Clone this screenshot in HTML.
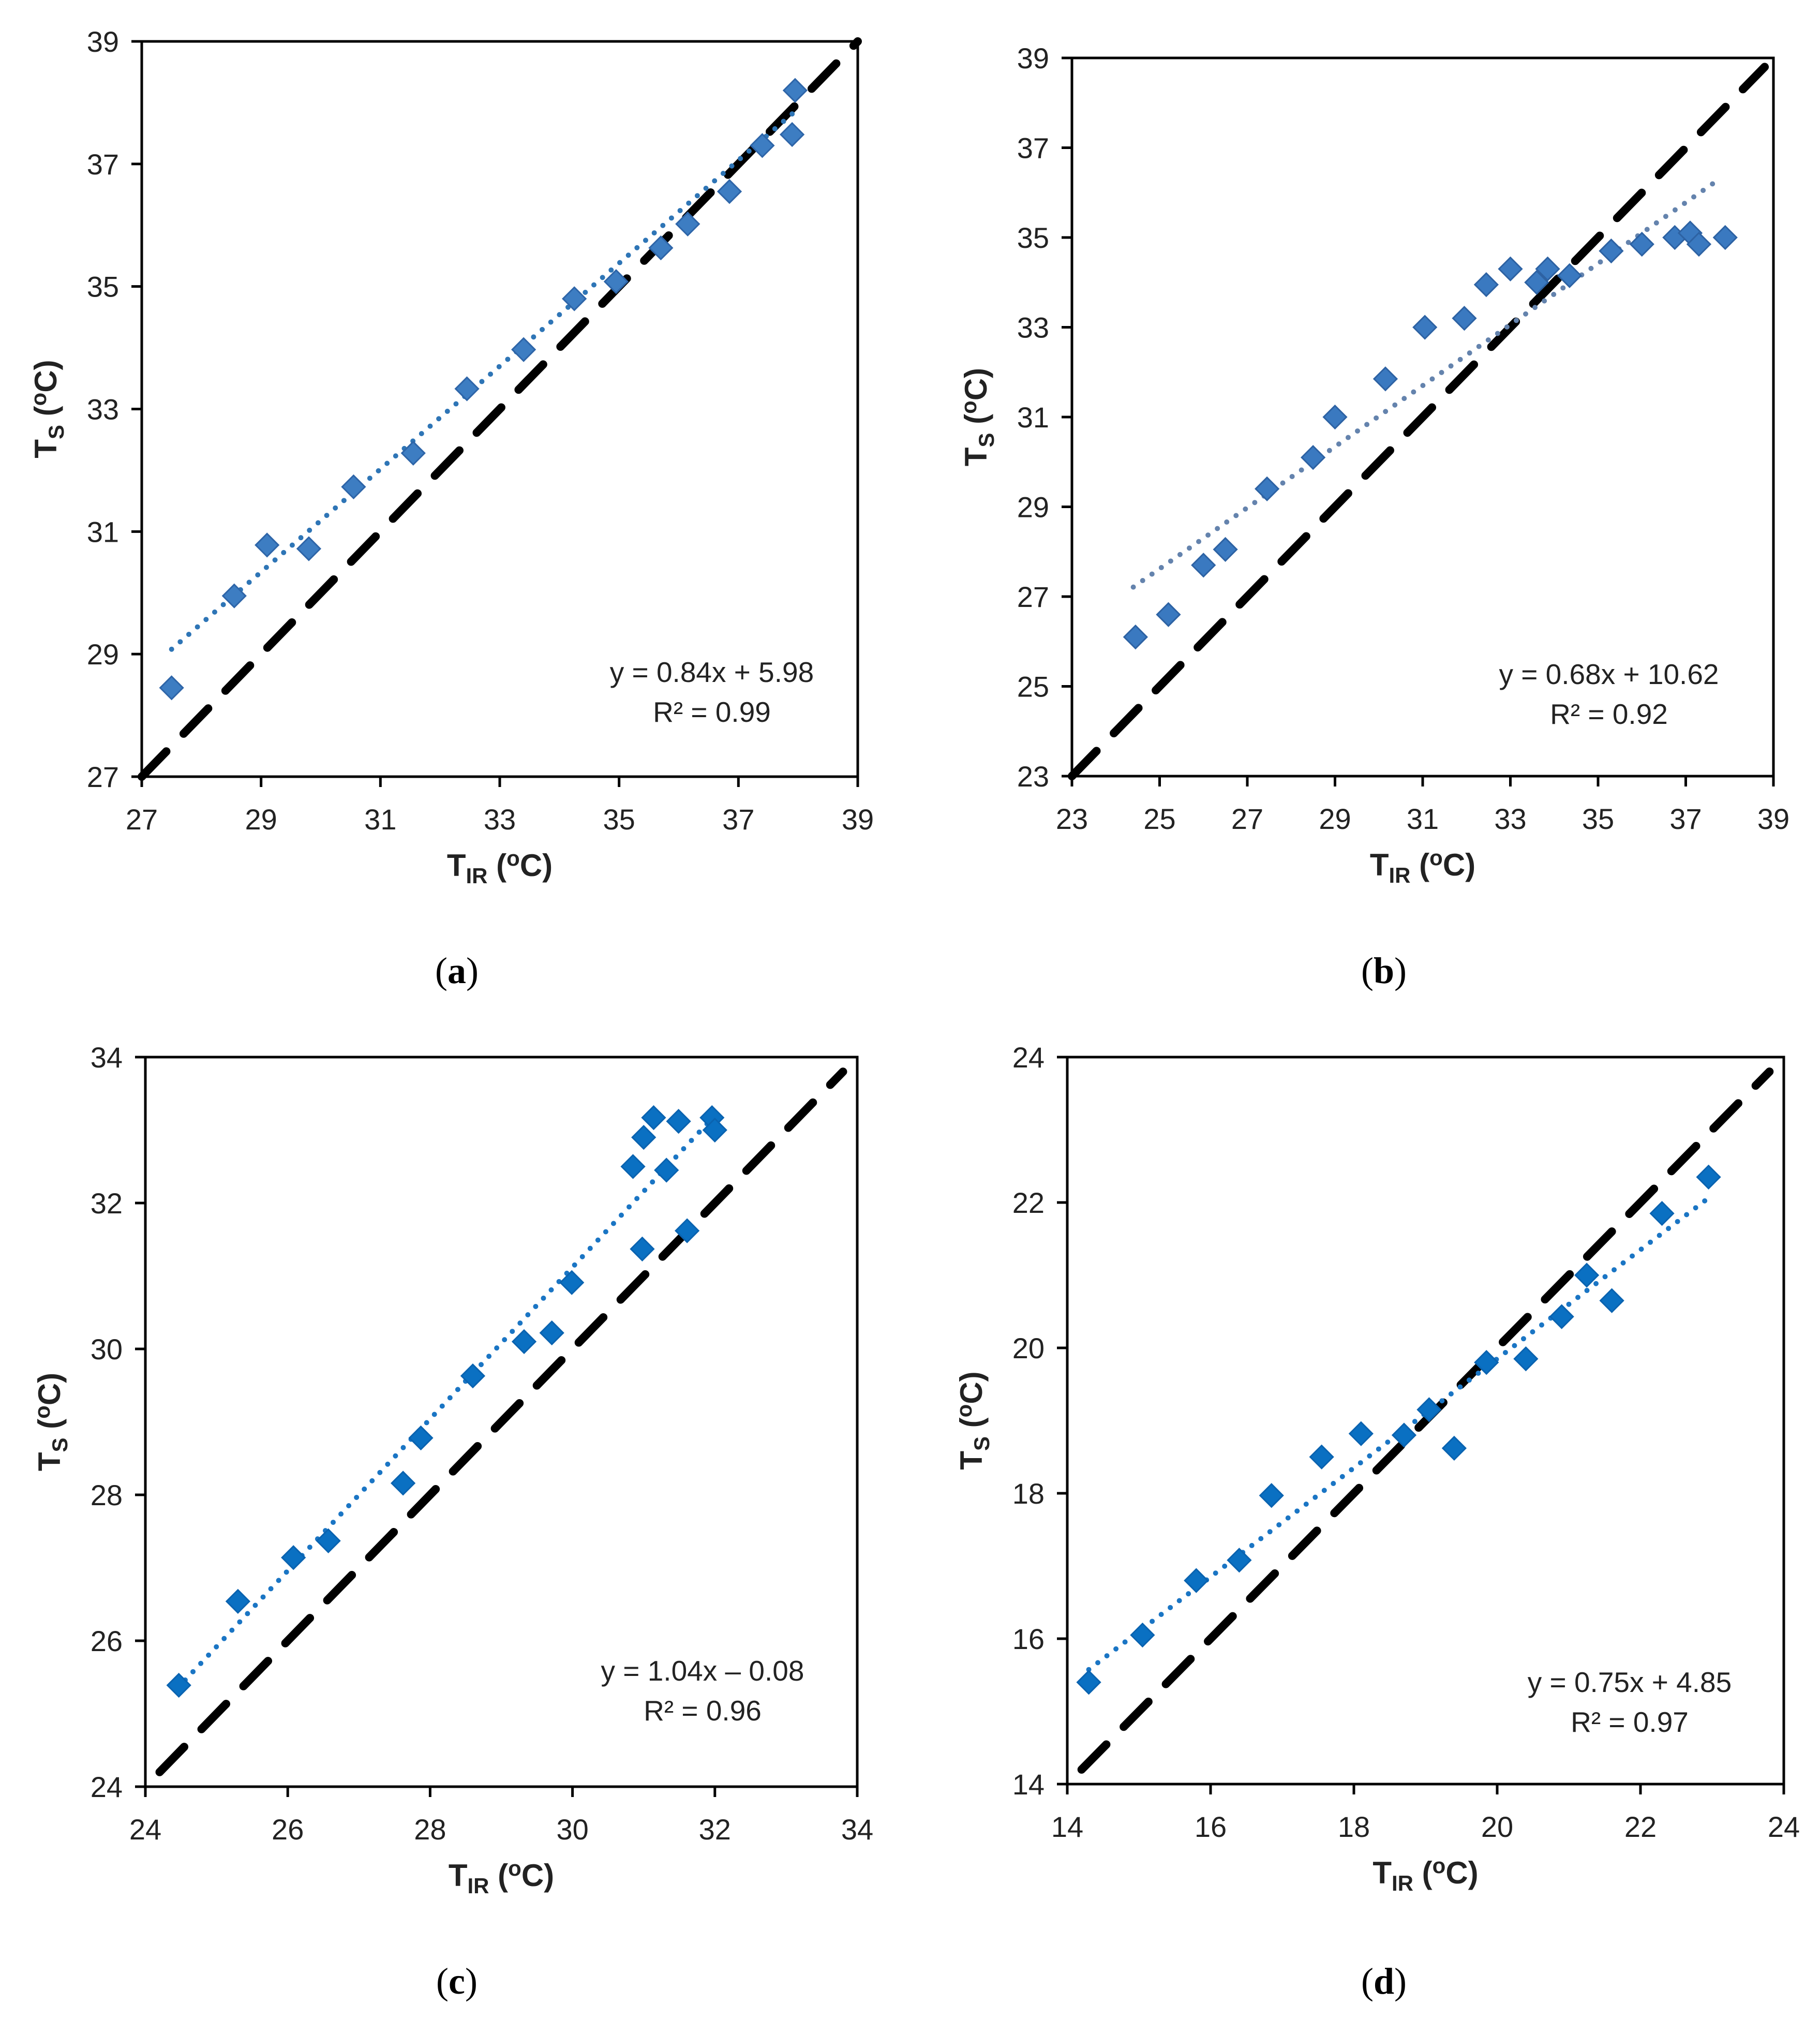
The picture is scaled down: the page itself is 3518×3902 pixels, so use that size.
<!DOCTYPE html>
<html><head><meta charset="utf-8"><style>
html,body{margin:0;padding:0;background:#fff;}
svg{display:block;font-family:"Liberation Sans",sans-serif;}
</style></head><body>
<svg id="fig" width="3518" height="3902" viewBox="0 0 3518 3902" xmlns="http://www.w3.org/2000/svg"></svg>
<script>
// Panel (a)
const aX = [27.5,28.55,29.1,29.8,30.55,31.55,32.45,33.4,34.25,34.95,35.7,36.15,36.85,37.4,37.9,37.95];
const aY = [28.45,29.95,30.78,30.72,31.73,32.28,33.33,33.97,34.8,35.08,35.63,36.02,36.55,37.3,37.48,38.2];
const aTicks = [27,29,31,33,35,37,39];
// Panel (b)
const bX = [24.45,25.2,26.0,26.5,27.45,28.5,29.0,30.15,31.05,31.95,32.45,33.0,33.6,33.85,34.35,35.3,36.0,36.75,37.1,37.3,37.9];
const bY = [26.1,26.6,27.7,28.05,29.4,30.1,31.0,31.85,33.0,33.2,33.95,34.3,34.0,34.3,34.15,34.7,34.85,35.0,35.1,34.85,35.0];
const bTicks = [23,25,27,29,31,33,35,37,39];
// Panel (c)
const cX = [24.47,25.3,26.08,26.57,27.62,27.87,28.6,29.32,29.71,29.99,30.98,30.85,31.0,31.14,31.32,31.49,31.61,31.96,32.0];
const cY = [25.39,26.54,27.14,27.37,28.16,28.78,29.63,30.1,30.22,30.91,31.37,32.5,32.9,33.17,32.45,33.12,31.62,33.17,33.0];
const cTicks = [24,26,28,30,32,34];
// Panel (d)
const dX = [14.3,15.05,15.8,16.4,16.85,17.55,18.1,18.7,19.05,19.4,19.85,20.4,20.9,21.25,21.6,22.3,22.95];
const dY = [15.4,16.05,16.8,17.08,17.97,18.5,18.82,18.8,19.15,18.62,19.8,19.85,20.43,21.0,20.65,21.85,22.35];
const dTicks = [14,16,18,20,22,24];
// Fits [slope, intercept]
const fitA = [0.84,5.98], fitB = [0.68,10.62], fitC = [1.04,-0.08], fitD = [0.75,4.85];

const NS = "http://www.w3.org/2000/svg";
const svg = document.getElementById('fig');
function mk(tag, attrs, parent){
  const e = document.createElementNS(NS, tag);
  for (const k in attrs) e.setAttribute(k, attrs[k]);
  (parent||svg).appendChild(e);
  return e;
}
const panels = [
  {id:'a', L:274, R:1658, T:80, B:1501, xs:aX, ys:aY, ticks:aTicks, fit:fitA, fx:[27.5,37.95], dx:[27,39], fill:'#3d7dc2', stroke:'#2e65a8', tcol:'#2e75b6', eq:['y = 0.84x + 5.98','R² = 0.99'], eqx:1376, eqy:1318, cap:'a', capx:883, capy:1900},
  {id:'b', L:2072, R:3428, T:112, B:1500, xs:bX, ys:bY, ticks:bTicks, fit:fitB, fx:[24.4,37.8], dx:[23,38.8], fill:'#3a79c0', stroke:'#2d62a3', tcol:'#6483ad', eq:['y = 0.68x + 10.62','R² = 0.92'], eqx:3110, eqy:1322, cap:'b', capx:2675, capy:1900},
  {id:'c', L:281, R:1657, T:2043, B:3453, xs:cX, ys:cY, ticks:cTicks, fit:fitC, fx:[24.45,32.0], dx:[24.2,33.8], fill:'#0a70c2', stroke:'#0a63b0', tcol:'#1a75c4', eq:['y = 1.04x – 0.08','R² = 0.96'], eqx:1358, eqy:3248, cap:'c', capx:883, capy:3853},
  {id:'d', L:2063, R:3448, T:2043, B:3448, xs:dX, ys:dY, ticks:dTicks, fit:fitD, fx:[14.3,22.95], dx:[14.2,23.8], fill:'#0a70c2', stroke:'#0a63b0', tcol:'#1a75c4', eq:['y = 0.75x + 4.85','R² = 0.97'], eqx:3150, eqy:3270, cap:'d', capx:2675, capy:3853}
];
panels.forEach(p=>{
  const t0 = p.ticks[0], t1 = p.ticks[p.ticks.length-1];
  const sx = v => p.L + (v - t0)/(t1 - t0)*(p.R - p.L);
  const sy = v => p.B - (v - t0)/(t1 - t0)*(p.B - p.T);
  const g = mk('g', {});
  
  
  const frame = mk('rect', {x:p.L, y:p.T, width:p.R-p.L, height:p.B-p.T, fill:'none', stroke:'#000', 'stroke-width':5}, g);
  
  
  p.ticks.forEach(t=>{
    const X = sx(t), Y = sy(t);
    const tx = mk('line', {x1:X, x2:X, y1:p.B, y2:p.B+20, stroke:'#000', 'stroke-width':5}, g);
    
    
    const ty = mk('line', {x1:p.L-20, x2:p.L, y1:Y, y2:Y, stroke:'#000', 'stroke-width':5}, g);
    
    
    const lx = mk('text', {x:X, y:p.B+102, 'text-anchor':'middle', 'font-size':56, fill:'#222'}, g);
    lx.textContent = t;
    
    
    const ly = mk('text', {x:p.L-44, y:Y+20, 'text-anchor':'end', 'font-size':56, fill:'#222'}, g);
    ly.textContent = t;
    
    
  });
  const dl = mk('line', {x1:sx(p.dx[0]), y1:sy(p.dx[0]), x2:sx(p.dx[1]), y2:sy(p.dx[1]), stroke:'#000', 'stroke-width':16, 'stroke-dasharray':'68 48', 'stroke-linecap':'round'}, g);
  
  
  const f = v => p.fit[0]*v + p.fit[1];
  const tl = mk('line', {x1:sx(p.fx[0]), y1:sy(f(p.fx[0])), x2:sx(p.fx[1]), y2:sy(f(p.fx[1])), stroke:p.tcol, 'stroke-width':10, 'stroke-dasharray':'0 22', 'stroke-linecap':'round'}, g);
  
  
  p.xs.forEach((xv,i)=>{
    const cx = sx(xv), cy = sy(p.ys[i]), r = 22;
    const pt = mk('polygon', {points:`${cx},${cy-r} ${cx+r},${cy} ${cx},${cy+r} ${cx-r},${cy}`, fill:p.fill, stroke:p.stroke, 'stroke-width':3}, g);
    
    
  });
  p.eq.forEach((s,k)=>{
    const e = mk('text', {x:p.eqx, y:p.eqy + k*77, 'text-anchor':'middle', 'font-size':55, fill:'#222'}, g);
    e.textContent = s;
    
    
  });
  const xt = mk('text', {x:(p.L+p.R)/2, y:p.B+192, 'text-anchor':'middle', 'font-size':60, 'font-weight':'bold', fill:'#222'}, g);
  xt.innerHTML = 'T<tspan font-size="42" dy="14">IR</tspan><tspan dy="-14"> (</tspan><tspan font-size="42" dy="-20">o</tspan><tspan dy="20">C)</tspan>';
  
  
  const cyT = (p.T+p.B)/2, xT = p.L - 165;
  const yt = mk('text', {x:xT, y:cyT, 'text-anchor':'middle', 'font-size':60, 'font-weight':'bold', fill:'#222', transform:`rotate(-90 ${xT} ${cyT})`}, g);
  yt.innerHTML = 'T<tspan font-size="42" dy="14">S</tspan><tspan dy="-14"> (</tspan><tspan font-size="42" dy="-20">o</tspan><tspan dy="20">C)</tspan>';
  
  
  const cap = mk('text', {x:p.capx, y:p.capy, 'text-anchor':'middle', 'font-size':72, fill:'#000', 'font-family':'Liberation Serif, serif'}, g);
  cap.innerHTML = '(<tspan font-weight="bold">' + p.cap + '</tspan>)';
  
  
});
</script>
</body></html>
